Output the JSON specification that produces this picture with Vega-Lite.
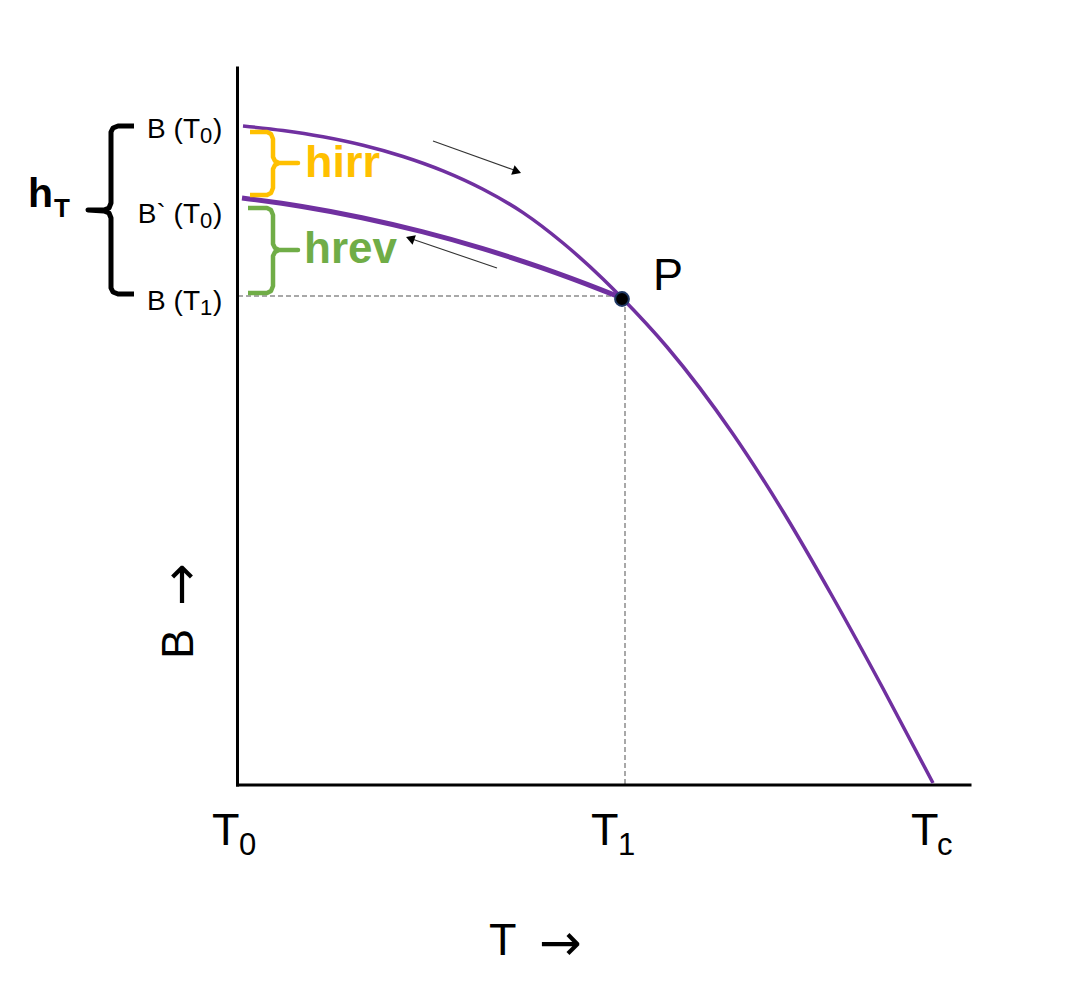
{
  "$schema": "https://vega.github.io/schema/vega-lite/v6.json",
  "width": 1080,
  "height": 999,
  "autosize": {"type": "fit", "contains": "padding"},
  "padding": 0,
  "background": "white",
  "config": {"view": {"stroke": null}, "text": {"font": "Liberation Sans", "baseline": "alphabetic"}},
  "datasets": {
    "axes": [{"x": 0.5, "y": 0, "x2": 0.5, "y2": 717}, {"x": 0.5, "y": 0, "x2": 733, "y2": 0}],
    "guides": [{"x": 1, "y": 489, "x2": 385, "y2": 489}, {"x": 388, "y": 486, "x2": 388, "y2": 0}],
    "arrowLines": [{"x": 196, "y": 644, "x2": 277, "y2": 615}, {"x": 260, "y": 517, "x2": 175, "y2": 546}],
    "arrowHeads": [{"x": 278.6, "y": 614, "dir": 110}, {"x": 174.5, "y": 546, "dir": 289}],
    "upper": [
      {"i": 0, "x": 6, "y": 659}, {"i": 1, "x": 46, "y": 654.5}, {"i": 2, "x": 86, "y": 648.2}, {"i": 3, "x": 126, "y": 639.7},
      {"i": 4, "x": 166, "y": 628.5}, {"i": 5, "x": 206, "y": 614.1}, {"i": 6, "x": 246, "y": 595.7}, {"i": 7, "x": 286, "y": 572.4},
      {"i": 8, "x": 326, "y": 542}, {"i": 9, "x": 366, "y": 506}, {"i": 10, "x": 385, "y": 487}, {"i": 11, "x": 430, "y": 438},
      {"i": 12, "x": 496, "y": 351}, {"i": 13, "x": 546, "y": 273.5}, {"i": 14, "x": 596, "y": 187.5}, {"i": 15, "x": 646, "y": 96.5},
      {"i": 16, "x": 696, "y": 2}
    ],
    "lower": [
      {"i": 0, "x": 5, "y": 587}, {"i": 1, "x": 65, "y": 578.5}, {"i": 2, "x": 125, "y": 567.3}, {"i": 3, "x": 185, "y": 553.3},
      {"i": 4, "x": 245, "y": 536.6}, {"i": 5, "x": 305, "y": 517.1}, {"i": 6, "x": 365, "y": 494.9}, {"i": 7, "x": 385, "y": 487}
    ],
    "point": [{"x": 385, "y": 486}],
    "braceBlack": [
      {"i": 0, "x": -103, "y": 659}, {"i": 1, "x": -119, "y": 659}, {"i": 2, "x": -124, "y": 657}, {"i": 3, "x": -126, "y": 653},
      {"i": 4, "x": -126, "y": 582}, {"i": 5, "x": -128, "y": 577}, {"i": 6, "x": -133, "y": 575}, {"i": 7, "x": -149, "y": 575},
      {"i": 8, "x": -133, "y": 574}, {"i": 9, "x": -128, "y": 572}, {"i": 10, "x": -126, "y": 567}, {"i": 11, "x": -126, "y": 497},
      {"i": 12, "x": -124, "y": 493}, {"i": 13, "x": -119, "y": 491}, {"i": 14, "x": -103, "y": 491}
    ],
    "braceYellow": [
      {"i": 0, "x": 13, "y": 653}, {"i": 1, "x": 30, "y": 653}, {"i": 2, "x": 34, "y": 651}, {"i": 3, "x": 36, "y": 646},
      {"i": 4, "x": 36, "y": 628}, {"i": 5, "x": 38, "y": 624}, {"i": 6, "x": 42, "y": 622}, {"i": 7, "x": 61, "y": 622},
      {"i": 8, "x": 42, "y": 622}, {"i": 9, "x": 38, "y": 620}, {"i": 10, "x": 36, "y": 616}, {"i": 11, "x": 36, "y": 597},
      {"i": 12, "x": 34, "y": 592}, {"i": 13, "x": 30, "y": 590}, {"i": 14, "x": 13, "y": 590}
    ],
    "braceGreen": [
      {"i": 0, "x": 11, "y": 577}, {"i": 1, "x": 30, "y": 577}, {"i": 2, "x": 34, "y": 575}, {"i": 3, "x": 36, "y": 570},
      {"i": 4, "x": 36, "y": 541}, {"i": 5, "x": 38, "y": 537}, {"i": 6, "x": 42, "y": 535}, {"i": 7, "x": 61, "y": 535},
      {"i": 8, "x": 42, "y": 535}, {"i": 9, "x": 38, "y": 533}, {"i": 10, "x": 36, "y": 529}, {"i": 11, "x": 36, "y": 499},
      {"i": 12, "x": 34, "y": 494}, {"i": 13, "x": 30, "y": 492}, {"i": 14, "x": 11, "y": 492}
    ],
    "labelMain": [{"x": -37, "y": 647, "t": "B (T"}, {"x": -37, "y": 562, "t": "B` (T"}, {"x": -37, "y": 475, "t": "B (T"}],
    "labelSub": [{"x": -37, "y": 642, "t": "0"}, {"x": -37, "y": 557, "t": "0"}, {"x": -37, "y": 470, "t": "1"}],
    "labelClose": [{"x": -24, "y": 647, "t": ")"}, {"x": -24, "y": 562, "t": ")"}, {"x": -24, "y": 475, "t": ")"}],
    "bigText": [
      {"x": -25, "y": -60, "t": "T"}, {"x": 354, "y": -60, "t": "T"}, {"x": 674, "y": -60, "t": "T"},
      {"x": 416, "y": 495, "t": "P"}, {"x": 252, "y": -170, "t": "T"}
    ],
    "bigSub": [{"x": 2, "y": -70, "t": "0"}, {"x": 381, "y": -70, "t": "1"}, {"x": 700, "y": -70, "t": "c"}],
    "xArrow": [{"x": 302, "y": -175, "t": "→"}],
    "yTitle": [{"x": -44, "y": 126, "t": "B"}],
    "yArrow": [{"x": -39, "y": 179, "t": "→"}],
    "hirr": [{"x": 68, "y": 608, "t": "hirr"}],
    "hrev": [{"x": 67, "y": 522, "t": "hrev"}],
    "hMain": [{"x": -209, "y": 578, "t": "h"}],
    "hSub": [{"x": -183, "y": 568, "t": "T"}]
  },
  "encoding": {
    "x": {"field": "x", "type": "quantitative", "scale": {"domain": [-237, 843], "nice": false, "zero": false}, "axis": null},
    "y": {"field": "y", "type": "quantitative", "scale": {"domain": [-214, 785], "nice": false, "zero": false}, "axis": null}
  },
  "layer": [
    {
      "data": {"name": "guides"},
      "mark": {"type": "rule", "color": "#8c8c8c", "strokeWidth": 1.5, "strokeDash": [5, 3]},
      "encoding": {"x2": {"field": "x2"}, "y2": {"field": "y2"}}
    },
    {
      "data": {"name": "axes"},
      "mark": {"type": "rule", "color": "black", "strokeWidth": 3, "strokeCap": "square"},
      "encoding": {"x2": {"field": "x2"}, "y2": {"field": "y2"}}
    },
    {
      "data": {"name": "arrowLines"},
      "mark": {"type": "rule", "color": "#333333", "strokeWidth": 1.1},
      "encoding": {"x2": {"field": "x2"}, "y2": {"field": "y2"}}
    },
    {
      "data": {"name": "arrowHeads"},
      "mark": {"type": "point", "shape": "triangle", "filled": true, "color": "black", "size": 100, "opacity": 1},
      "encoding": {"angle": {"field": "dir", "type": "quantitative", "scale": null}}
    },
    {
      "data": {"name": "upper"},
      "mark": {"type": "line", "color": "#7030A0", "strokeWidth": 3.5, "interpolate": "monotone"},
      "encoding": {"order": {"field": "i", "type": "quantitative"}}
    },
    {
      "data": {"name": "lower"},
      "mark": {"type": "line", "color": "#7030A0", "strokeWidth": 5, "interpolate": "monotone"},
      "encoding": {"order": {"field": "i", "type": "quantitative"}}
    },
    {
      "data": {"name": "point"},
      "mark": {"type": "point", "shape": "circle", "filled": true, "fill": "black", "stroke": "#1f3864", "strokeWidth": 2, "size": 190, "opacity": 1}
    },
    {
      "data": {"name": "braceBlack"},
      "mark": {"type": "line", "color": "black", "strokeWidth": 5, "strokeJoin": "round", "strokeCap": "butt"},
      "encoding": {"order": {"field": "i", "type": "quantitative"}}
    },
    {
      "data": {"name": "braceYellow"},
      "mark": {"type": "line", "color": "#FFC000", "strokeWidth": 4.5, "strokeJoin": "round", "strokeCap": "butt"},
      "encoding": {"order": {"field": "i", "type": "quantitative"}}
    },
    {
      "data": {"name": "braceGreen"},
      "mark": {"type": "line", "color": "#70AD47", "strokeWidth": 4.5, "strokeJoin": "round", "strokeCap": "butt"},
      "encoding": {"order": {"field": "i", "type": "quantitative"}}
    },
    {
      "data": {"name": "labelMain"},
      "mark": {"type": "text", "align": "right", "fontSize": 28, "color": "black"},
      "encoding": {"text": {"field": "t"}}
    },
    {
      "data": {"name": "labelSub"},
      "mark": {"type": "text", "align": "left", "fontSize": 22, "color": "black"},
      "encoding": {"text": {"field": "t"}}
    },
    {
      "data": {"name": "labelClose"},
      "mark": {"type": "text", "align": "left", "fontSize": 28, "color": "black"},
      "encoding": {"text": {"field": "t"}}
    },
    {
      "data": {"name": "bigText"},
      "mark": {"type": "text", "align": "left", "fontSize": 45, "color": "black"},
      "encoding": {"text": {"field": "t"}}
    },
    {
      "data": {"name": "bigSub"},
      "mark": {"type": "text", "align": "left", "fontSize": 31, "color": "black"},
      "encoding": {"text": {"field": "t"}}
    },
    {
      "data": {"name": "xArrow"},
      "mark": {"type": "text", "align": "left", "fontSize": 51, "font": "DejaVu Sans", "color": "black"},
      "encoding": {"text": {"field": "t"}}
    },
    {
      "data": {"name": "yTitle"},
      "mark": {"type": "text", "align": "left", "fontSize": 45, "angle": 270, "color": "black"},
      "encoding": {"text": {"field": "t"}}
    },
    {
      "data": {"name": "yArrow"},
      "mark": {"type": "text", "align": "left", "fontSize": 51, "angle": 270, "font": "DejaVu Sans", "color": "black"},
      "encoding": {"text": {"field": "t"}}
    },
    {
      "data": {"name": "hirr"},
      "mark": {"type": "text", "align": "left", "fontSize": 45, "fontWeight": "bold", "color": "#FFC000"},
      "encoding": {"text": {"field": "t"}}
    },
    {
      "data": {"name": "hrev"},
      "mark": {"type": "text", "align": "left", "fontSize": 44, "fontWeight": "bold", "color": "#70AD47"},
      "encoding": {"text": {"field": "t"}}
    },
    {
      "data": {"name": "hMain"},
      "mark": {"type": "text", "align": "left", "fontSize": 41, "fontWeight": "bold", "color": "black"},
      "encoding": {"text": {"field": "t"}}
    },
    {
      "data": {"name": "hSub"},
      "mark": {"type": "text", "align": "left", "fontSize": 26, "fontWeight": "bold", "color": "black"},
      "encoding": {"text": {"field": "t"}}
    }
  ]
}
